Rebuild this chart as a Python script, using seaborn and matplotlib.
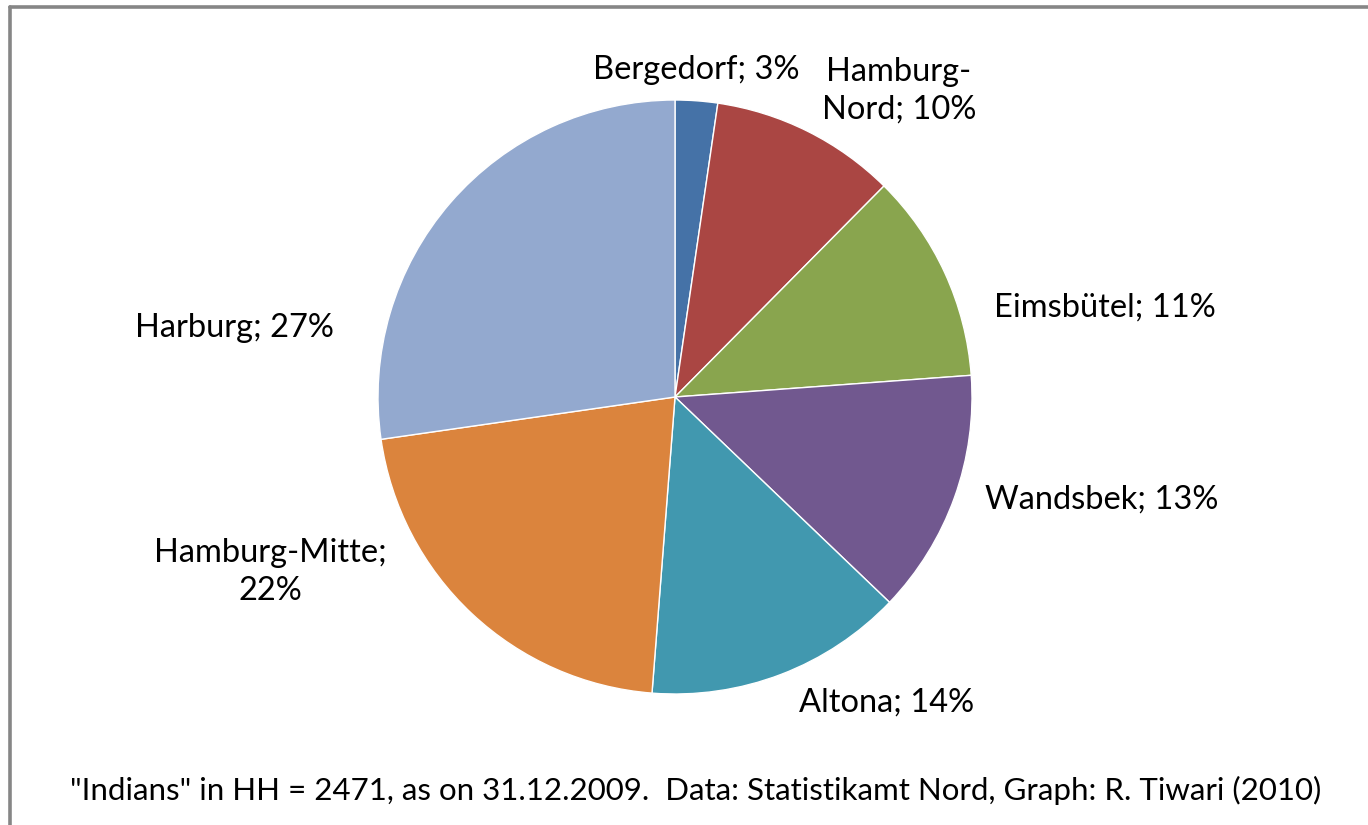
import matplotlib
matplotlib.use("Agg")
import matplotlib.pyplot as plt
import seaborn as sns
from matplotlib.lines import Line2D

# ---- data ----
districts = ["Bergedorf", "Hamburg-Nord", "Eimsbütel", "Wandsbek", "Altona", "Hamburg-Mitte", "Harburg"]
counts = [57, 250, 282, 329, 348, 531, 674]          # persons (total 2471)
label_texts = ["Bergedorf; 3%", "Hamburg-\nNord; 10%", "Eimsbütel; 11%", "Wandsbek; 13%",
               "Altona; 14%", "Hamburg-Mitte;\n22%", "Harburg; 27%"]
colors = ["#4572A7", "#AA4643", "#89A54E", "#71588F", "#4198AF", "#DB843D", "#93A9CF"]
footnote = '"Indians" in HH = 2471, as on 31.12.2009.  Data: Statistikamt Nord, Graph: R. Tiwari (2010)'

# ---- layout (pixels in a 1368x825 canvas, y from top) ----
W, H = 1368, 825
center_px = (675, 397)
radius_px = 297
label_px = [(696, 70), (899, 91), (1105, 308), (1102, 500), (887, 703), (270, 572), (234, 328)]

sns.set_theme(style="white")
plt.rcParams["font.family"] = ["Lato", "DejaVu Sans"]

fig = plt.figure(figsize=(W / 100, H / 100), dpi=100)
ax = fig.add_axes([0, 0, 1, 1])

cx, cy = center_px[0], H - center_px[1]
ax.pie(counts, colors=colors, startangle=90, counterclock=False,
       center=(cx, cy), radius=radius_px,
       wedgeprops=dict(edgecolor="white", linewidth=1.0))
ax.set_xlim(0, W)
ax.set_ylim(0, H)
ax.set_aspect("equal")
ax.axis("off")

for txt, (lx, ly) in zip(label_texts, label_px):
    ax.text(lx, H - ly, txt, ha="center", va="center", fontsize=23.5,
            color="black", linespacing=1.3)

ax.text(696, H - 790, footnote, ha="center", va="center", fontsize=22.5, color="black")

# frame lines (top and left)
fig.add_artist(Line2D([9.5 / W, 1], [1 - 6.5 / H, 1 - 6.5 / H], transform=fig.transFigure,
                      color="#868686", linewidth=2.6))
fig.add_artist(Line2D([9.5 / W, 9.5 / W], [0, 1 - 6.5 / H], transform=fig.transFigure,
                      color="#868686", linewidth=2.6))

fig.savefig("out.png", dpi=100, facecolor="white")
